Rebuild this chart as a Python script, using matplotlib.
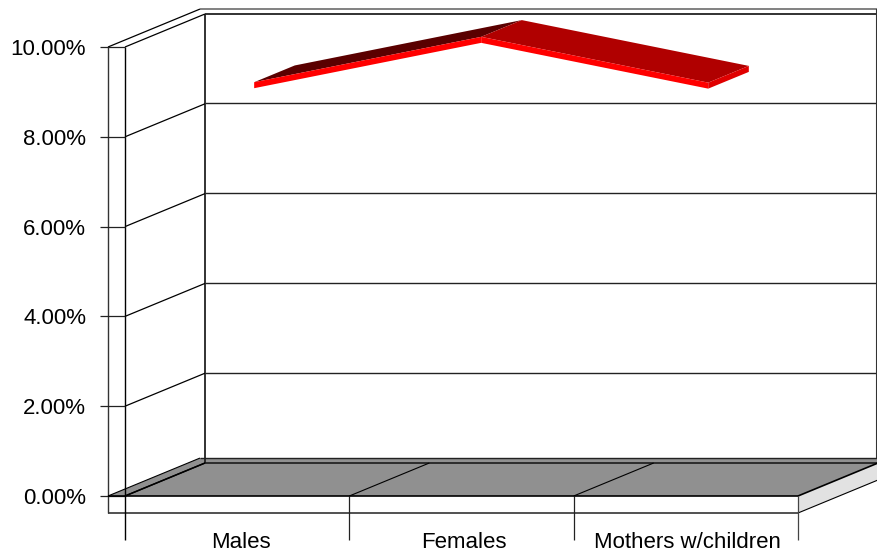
import matplotlib
matplotlib.use("Agg")
import matplotlib.pyplot as plt
from matplotlib.patches import Polygon

categories = ["Males", "Females", "Mothers w/children"]
values = [9.06, 10.07, 9.05]
y_ticks = [0, 2, 4, 6, 8, 10]
y_labels = ["0.00%", "2.00%", "4.00%", "6.00%", "8.00%", "10.00%"]

W, H = 878, 552
L, R, T, B = 125, 798, 47, 496
fig = plt.figure(figsize=(W / 100, H / 100), dpi=100)
ax = fig.add_axes([L / W, 1 - B / H, (R - L) / W, (B - T) / H])
ax.set_xlim(0, 3)
ax.set_ylim(0, 10)
for s in ax.spines.values():
    s.set_visible(False)

UX = (R - L) / 3      # px per category
UY = (B - T) / 10     # px per percent
DX = 80 / UX          # depth shift in data units
DY = 33 / UY
OUT = -17 / UX        # left edge of the outer wall
OUTD = 1.15           # depth of the outer shell
SLAB = 17 / UY        # thickness of base slab
TICKLOW = 44 / UY
NUDGE = 0.6 / UY      # pixel alignment of back-wall gridlines


def P(x, y, d=0.0):
    return (x + d * DX, y + d * DY)


def line(pts, color="black", lw=1.0, z=3):
    xs, ys = zip(*pts)
    ax.plot(xs, ys, color=color, lw=lw, clip_on=False, zorder=z,
            solid_capstyle="butt", solid_joinstyle="miter")


def poly(pts, fc, ec="none", lw=0.6, z=2):
    ax.add_patch(Polygon(pts, closed=True, fc=fc, ec=ec, lw=lw, clip_on=False, zorder=z))


right_x = 3 + DX
top_outer = P(OUT, 0, OUTD)[1]

# floor and base slab
poly([P(OUT, 0), P(OUT, 0, OUTD), (right_x, top_outer), (right_x, DY), P(3, 0)], "#909090")
poly([P(3, 0), P(3, 0, 1), P(3, -SLAB, 1), P(3, -SLAB)], "#e2e2e2")
line([P(3, -SLAB), P(3, -SLAB, 1)], lw=0.8)
line([P(OUT, -SLAB), P(3, -SLAB)], color="#333333", lw=1.2)

# walls
back_x = DX
line([(back_x, DY), (back_x, 10 + DY)], color="#222222", lw=1.3)
line([(back_x, 10 + DY), (right_x, 10 + DY)], color="#222222", lw=1.3)
outer_top = P(OUT, 10, OUTD)
line([outer_top, (right_x, outer_top[1])], color="#777777", lw=1.3)
line([P(OUT, 10), outer_top], lw=0.9)
line([(right_x - 0.004, top_outer), (right_x - 0.004, outer_top[1])], color="#333333", lw=1.5)
line([(OUT, -SLAB), (OUT, 10)], color="#333333", lw=1.0)
line([(0, -TICKLOW), (0, 10)], lw=1.0)

# gridlines on side and back walls, tick stubs
for v in y_ticks:
    line([(OUT - 8 / UX, v), (0, v)], lw=0.9, color="#222222")
    line([(0, v), (back_x, v + DY)], lw=0.9)
    if 0 < v < 10:
        line([(back_x, v + DY + NUDGE), (right_x, v + DY + NUDGE)], color="#222222", lw=1.0, z=2.5)

# floor edges
line([P(OUT, 0), P(3, 0)], lw=1.2, z=4)
line([P(OUT, 0), P(OUT, 0, OUTD)], lw=0.8)
line([P(OUT, 0, OUTD), (right_x, top_outer)], color="#222222", lw=1.0)
line([(back_x, DY), (right_x, DY)], color="#111111", lw=1.1)
line([P(0, 0), P(0, 0, 1)], lw=1.1, z=4)
line([P(3, 0), P(3, 0, 1)], lw=1.2, z=4)
for i in range(1, 3):
    line([P(i, 0), P(i, 0, 1)], lw=0.8)
for i in range(1, 4):
    line([(i, -TICKLOW), (i, 0)], lw=0.9, color="#222222" if i < 3 else "#444444")

# 3-D ribbon
D0, D1 = 0.2125, 0.72
THICK = 6 / UY
xpos = [0.5 + i * 1.012 for i in range(len(values))]
top_cols = ["#5a0000", "#b00000"]
for i in range(len(values) - 1):
    a, b = (xpos[i], values[i]), (xpos[i + 1], values[i + 1])
    poly([P(*a, D0), P(*b, D0), P(*b, D1), P(*a, D1)], top_cols[i], z=5)
    poly([P(*a, D0), P(*b, D0), P(b[0], b[1] - THICK, D0), P(a[0], a[1] - THICK, D0)], "#ff0000", z=6)
last = (xpos[-1], values[-1])
poly([P(*last, D0), P(*last, D1), P(last[0], last[1] - THICK, D1), P(last[0], last[1] - THICK, D0)], "#e00000", z=6)

# axis labels
font = "Liberation Sans"
ax.set_yticks(y_ticks)
ax.set_yticklabels(y_labels, family=font, fontsize=16, color="black")
ax.set_xticks([p + 0.015 - 0.005 * i for i, p in enumerate([0.5, 1.5, 2.5])])
ax.set_xticklabels(categories, family=font, fontsize=16, color="black")
ax.tick_params(axis="y", length=0, pad=28)
ax.tick_params(axis="x", length=0, pad=26)

fig.savefig("out.png", dpi=100)
